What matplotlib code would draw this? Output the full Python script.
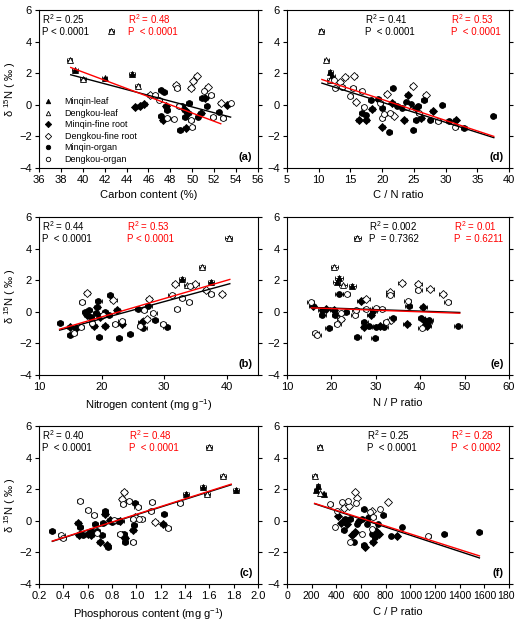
"""δ15N frente a C, N, P y sus cocientes (seis paneles con ajustes lineales)."""
import matplotlib.pyplot as plt
from matplotlib.lines import Line2D
from matplotlib.ticker import FormatStrFormatter

plt.rcParams["font.family"] = ["Liberation Sans", "DejaVu Sans"]
plt.rcParams["mathtext.fontset"] = "custom"
plt.rcParams["mathtext.rm"] = "Liberation Sans"
plt.rcParams["mathtext.it"] = "Liberation Sans:italic"
plt.rcParams["mathtext.bf"] = "Liberation Sans:bold"

# --- datos ---------------------------------------------------------------
# grupos: ML Minqin-leaf, DL Dengkou-leaf, MR Minqin-fine root,
#         DR Dengkou-fine root, MO Minqin-organ, DO Dengkou-organ
C_X = [38.8, 42.6, 39.3, 40.0, 42.0, 44.5, 45.0, 44.8, 45.2, 45.6,
       46.1, 46.6, 47.1, 47.4, 47.0, 47.6, 47.7, 47.1, 47.3, 47.7,
       48.3, 48.5, 48.6, 48.8, 49.1, 49.3, 48.9, 49.4, 49.3, 49.6,
       49.7, 49.9, 50.0, 49.9, 50.1, 50.4, 50.5, 50.8, 50.9, 51.1,
       51.2, 51.4, 51.7, 51.3, 51.9, 52.4, 52.6, 52.8, 53.2, 53.5]
C_Y = [2.84, 4.7, 2.17, 1.64, 1.68, 1.96, 1.22, -0.15, -0.1, 0.05,
       0.65, 0.63, 0.95, 0.8, 0.3, -0.1, -0.3, -0.7, -0.95, -0.85,
       -0.9, 1.27, 1.05, -0.1, -0.1, -0.3, -1.6, -1.5, -0.75, -0.5,
       0.1, -0.95, -1.4, 1.05, 1.5, 1.8, -0.8, -0.55, 0.4, 0.9,
       0.4, 1.1, 0.6, -0.1, -0.75, -0.45, 0.1, -0.85, 0.0, 0.1]
C_G = ("DL DL ML DL ML ML DL MR MR MR DR DO MO MO DO MR MO MO MR DO "
       "DO DR DO DO MO MR MO MR MO MR MO DO DO DR DR DR MO MR MO DO "
       "MR DR DO MO DO MO DR DO MR DO").split()

CN_X = [10.4, 11.2, 11.8, 12.1, 11.7, 12.4, 12.6, 13.4, 13.7, 14.2,
        15.6, 15.4, 15.0, 15.8, 16.8, 17.1, 16.3, 16.8, 17.4, 17.5,
        18.2, 18.4, 19.4, 19.7, 20.0, 20.0, 20.0, 20.3, 20.7, 21.1,
        21.3, 21.7, 21.8, 21.6, 22.4, 23.2, 23.5, 23.8, 23.9, 24.0,
        24.5, 24.8, 24.9, 25.3, 25.3, 25.7, 25.8, 26.2, 26.6, 26.9,
        27.6, 28.0, 28.8, 29.5, 30.5, 31.6, 31.5, 32.9, 37.5]
CN_Y = [4.67, 2.82, 2.1, 1.8, 1.6, 1.55, 1.05, 1.45, 1.15, 1.73,
        1.8, 1.05, 0.57, 0.15, 0.85, -0.15, -0.95, -0.53, -0.63, -0.98,
        0.3, -0.27, 0.35, 0.1, -0.2, -0.85, -1.4, -0.6, 0.7, -1.7,
        -0.55, 1.05, -0.7, 0.1, -0.1, -0.2, -0.95, 0.2, -0.15, 0.65,
        0.05, 1.2, -1.6, -0.2, -0.95, -0.05, -0.55, -0.85, 0.3, 0.6,
        -0.95, -0.4, -1.05, 0.0, -1.0, -0.95, -1.4, -1.45, -0.7]
CN_G = ("DL DL ML ML DL DO DO DR DO DR DR DO DO DR DO DO MR MO MO MR "
        "MO MR MO DO MO DO MR DO DR MO DO MO DR MR MO MO MR MO DO MR "
        "MO DR MO MR MO MO DO MR MO DR MO MR DO MO MO MR DO MO MO").split()

N_X = [40.3, 36.0, 32.9, 31.8, 33.7, 34.1, 35.0, 37.5, 36.7, 37.5,
       39.3, 31.2, 32.9, 34.0, 32.0, 13.3, 14.9, 15.0, 15.6, 15.9,
       16.7, 16.9, 17.7, 17.4, 17.7, 18.0, 18.3, 18.5, 18.8, 19.1,
       19.3, 19.5, 19.6, 19.8, 20.2, 20.5, 20.6, 21.2, 21.4, 21.9,
       22.1, 22.5, 22.8, 23.2, 23.2, 24.6, 25.9, 26.2, 26.4, 26.7,
       26.8, 27.2, 27.5, 27.6, 28.3, 28.5, 29.8, 30.4]
N_Y = [4.67, 2.84, 2.1, 1.79, 1.68, 1.62, 1.73, 1.9, 1.37, 1.12,
       1.1, 1.05, 0.9, 0.6, 0.15, -0.7, -0.95, -1.47, -1.37, -1.05,
       -0.95, 0.63, 1.2, 0.0, -0.2, 0.1, -0.3, -0.7, -0.9, -0.1,
       0.3, 0.7, -1.6, -0.3, -0.2, 0.0, -0.9, -0.2, 1.05, 0.74,
       -0.74, 0.1, -1.67, -0.78, -0.57, -1.43, 0.21, -0.9, -0.67, -1.0,
       0.1, -0.44, 0.36, 0.84, -0.1, -0.53, -0.74, -0.95]
N_G = ("DL DL ML DR DL DO DR ML DR DO DR DO DO DO DO MO MR MO DO MR "
       "DO DO DR MO MR MO MO DO MR MO MR MO MO MR DO MO MR MO MO DR "
       "DO MR MO MR DO MO MO DO MR MO DO DR MO DR DO MO DO MO").split()

NP_X = [25.8, 20.6, 21.7, 21.2, 22.6, 24.7, 23.4, 21.7, 15.3, 15.8,
        17.8, 18.8, 17.9, 20.5, 20.9, 22.1, 23.2, 25.3, 25.5, 21.3,
        22.1, 19.4, 16.4, 16.8, 25.8, 29.8, 26.6, 27.9, 27.9, 27.4,
        27.4, 28.5, 28.9, 29.4, 30.0, 30.0, 30.9, 31.3, 31.9, 32.4,
        33.4, 33.8, 33.2, 33.2, 35.8, 37.2, 37.4, 37.0, 39.6, 39.6,
        40.3, 40.2, 40.7, 40.9, 41.4, 41.8, 42.0, 41.6, 42.2, 45.1,
        46.2, 48.5]
NP_Y = [4.67, 2.84, 2.15, 1.9, 1.68, 1.66, 1.1, 1.1, 0.63, 0.36,
        0.1, 0.21, -0.2, 0.1, -0.2, -0.1, -0.04, -0.17, 0.1, -0.74,
        -0.46, -1.0, -1.37, -1.47, -1.58, -1.67, 0.7, 0.15, 0.84, -0.63,
        -0.95, -0.9, -0.2, 0.04, 0.25, -0.95, -0.9, 0.15, -0.95, -0.63,
        -0.49, -0.42, 1.05, 1.26, 1.82, 0.7, 0.4, -0.74, 1.79, 1.37,
        -1.0, -0.36, 0.3, -0.53, -0.78, -0.63, -0.49, -0.9, 1.43, 1.1,
        0.63, -0.9]
NP_G = ("DL DL ML ML DL ML DO MO DO MR MO MR MO MR MO DO MO DO DO DO "
        "DR MO DO DO MO MO MR DO DR MO MR MO MR MO DO MO MR DO MO DO "
        "DR MO DO DR DR DO MO MR DR DO DO MO MR MO MR MO MO MR DR DR "
        "DO MO").split()

P_X = [1.60, 1.71, 1.55, 1.58, 1.41, 1.82, 1.36, 1.13, 1.12, 1.23,
       1.22, 1.26, 1.15, 1.05, 1.02, 0.99, 1.01, 0.99, 0.97, 0.97,
       0.98, 0.97, 0.94, 0.90, 0.88, 0.89, 0.91, 0.91, 0.87, 0.90,
       0.88, 0.85, 0.87, 0.80, 0.78, 0.82, 0.745, 0.745, 0.725, 0.77,
       0.76, 0.72, 0.705, 0.68, 0.66, 0.655, 0.60, 0.54, 0.535, 0.52,
       0.54, 0.53, 0.56, 0.60, 0.625, 0.63, 0.68, 0.385, 0.31, 0.40]
P_Y = [4.7, 2.86, 2.15, 1.7, 1.7, 1.95, 1.12, 1.18, 0.65, 0.44,
       -0.18, -0.44, -0.08, 0.13, 0.13, 0.23, 0.9, 1.14, 0.13, -0.6,
       -0.29, -1.34, 1.28, 1.85, 1.39, 1.05, -1.08, -1.34, -0.81, -0.81,
       -0.92, 0.0, 0.0, -0.08, 0.02, 0.02, 0.65, 0.45, -0.15, -1.65,
       -1.55, -0.92, -1.34, -0.77, -0.18, 0.34, 0.69, -0.81, 1.28, -0.12,
       -0.39, -0.92, -0.92, -0.81, -0.65, -0.92, -0.65, -0.92, -0.65, -1.06]
P_G = ("DL DL ML DL ML ML DO DO DO MO MR DO DR DO DO DR DO MO DO MR "
       "MO DO DO DR DR DO MR MO DO MO MR MO MR MO MR DO MO MR MO MO "
       "MR MO MR DO MO DO DO MO DO MR MO MR MO MR MO MR MO DO MO DO").split()

CP_X = [264, 224, 251, 235, 270, 297, 351, 405, 391, 413,
        445, 459, 494, 499, 553, 567, 561, 467, 440, 459,
        486, 513, 526, 513, 540, 553, 567, 580, 607, 621,
        607, 621, 634, 648, 661, 674, 688, 701, 688, 688,
        694, 710, 720, 737, 747, 755, 782, 818, 845, 890,
        931, 1147, 1276, 1560]
CP_Y = [4.69, 2.84, 2.21, 1.94, 1.75, 1.68, 1.09, 0.63, -0.42, 0.32,
        1.16, 0.84, 1.26, 0.95, 1.83, 1.47, 1.12, 0.11, -0.11, -0.57,
        -0.21, 0.11, -0.9, -1.33, -1.37, -0.74, -0.21, 0.0, 0.11, 0.74,
        -0.84, -1.54, -1.68, -0.21, 0.21, 0.53, 0.63, 0.21, -0.53, -0.84,
        -1.37, -1.0, -0.63, -0.21, -0.84, 0.74, 0.36, 1.22, -0.95, -0.95,
        -0.42, -0.95, -0.84, -0.69]
CP_G = ("DL DL ML ML DL ML DO DO DO MR DO DR DO DR DR DR DO MO MR MO "
        "MR MO MR DO MO MR MO MR MO MO DO MO MR MO MR DO DR DO DO MO "
        "MR MO MR MO MR DO MO DR MO MR MO DO MO MO").split()

# rectas de ajuste (extremos): negra y roja
FIT_BLACK = {
    "a": ([38.9, 53.5], [1.9, -0.78]),
    "d": ([10.5, 37.6], [1.37, -2.08]),
    "b": ([13.3, 40.5], [-1.16, 1.78]),
    "e": ([15.5, 48.9], [0.28, -0.04]),
    "c": ([0.31, 1.78], [-1.3, 2.28]),
    "f": ([224, 1560], [1.08, -2.35]),
}
FIT_RED = {
    "a": ([38.9, 52.6], [2.36, -1.2]),
    "d": ([10.5, 37.6], [1.6, -2.0]),
    "b": ([13.3, 40.5], [-1.1, 2.05]),
    "e": ([15.5, 48.9], [0.25, -0.09]),
    "c": ([0.31, 1.78], [-1.28, 2.32]),
    "f": ([224, 1560], [1.1, -2.22]),
}
STATS_BLACK = {
    "a": "R$^2$ = 0.25\nP < 0.0001",
    "d": "R$^2$ = 0.41\nP  < 0.0001",
    "b": "R$^2$ = 0.44\nP  < 0.0001",
    "e": "R$^2$ = 0.002\nP  = 0.7362",
    "c": "R$^2$ = 0.40\nP  < 0.0001",
    "f": "R$^2$ = 0.25\nP  < 0.0001",
}
STATS_RED = {
    "a": "R$^2$ = 0.48\nP  < 0.0001",
    "d": "R$^2$ = 0.53\nP  < 0.0001",
    "b": "R$^2$ = 0.53\nP < 0.0001",
    "e": "R$^2$ = 0.01\nP  = 0.6211",
    "c": "R$^2$ = 0.48\nP  < 0.0001",
    "f": "R$^2$ = 0.28\nP  < 0.0002",
}

GROUPS = ["ML", "DL", "MR", "DR", "MO", "DO"]
GROUP_LABELS = ["Minqin-leaf", "Dengkou-leaf", "Minqin-fine root",
                "Dengkou-fine root", "Minqin-organ", "Dengkou-organ"]
MARKERS = {"ML": "^", "DL": "^", "MR": "D", "DR": "D", "MO": "o", "DO": "o"}
SIZES = {"^": 4.6, "D": 3.6, "o": 4.2}


def face(g):
    return "black" if g.startswith("M") else "white"


def draw_panel(ax, key, xs, ys, gs, xerr, xlim, xticks, xlabel, sx_black, sx_red):
    for g in GROUPS:
        px = [x for x, gg in zip(xs, gs) if gg == g]
        py = [y for y, gg in zip(ys, gs) if gg == g]
        if not px:
            continue
        m = MARKERS[g]
        ax.errorbar(px, py, xerr=xerr, yerr=0.1, fmt=m, ms=SIZES[m],
                    mfc=face(g), mec="black", mew=0.6, ecolor="black",
                    elinewidth=0.6, capsize=1.3, capthick=0.6, zorder=3)
    bx, by = FIT_BLACK[key]
    rx, ry = FIT_RED[key]
    ax.plot(bx, by, color="black", lw=1.0, zorder=4)
    ax.plot(rx, ry, color="red", lw=1.0, zorder=4)
    ax.text(sx_black, 0.985, STATS_BLACK[key], transform=ax.transAxes,
            ha="left", va="top", fontsize=7, linespacing=1.15)
    ax.text(sx_red, 0.985, STATS_RED[key], transform=ax.transAxes,
            ha="left", va="top", fontsize=7, color="red", linespacing=1.15)
    ax.text(0.975, 0.035, f"({key})", transform=ax.transAxes, ha="right",
            va="bottom", fontsize=8, fontweight="bold")
    ax.set_xlim(*xlim)
    ax.set_xticks(xticks)
    ax.set_ylim(-4, 6)
    ax.set_yticks([-4, -2, 0, 2, 4, 6])
    ax.set_xlabel(xlabel, fontsize=8, labelpad=4)
    ax.tick_params(direction="out", length=3, width=0.8, labelsize=8,
                   right=True, pad=2)
    for s in ax.spines.values():
        s.set_linewidth(0.8)


fig = plt.figure(figsize=(5.15, 6.24), dpi=100)
LEFT_L, LEFT_R = 0.0757, 0.5573
W_L, W_R, H = 0.4252, 0.4311, 0.2532
BOTTOMS = [0.7308, 0.399, 0.0641]

ax_a = fig.add_axes([LEFT_L, BOTTOMS[0], W_L, H])
ax_d = fig.add_axes([LEFT_R, BOTTOMS[0], W_R, H])
ax_b = fig.add_axes([LEFT_L, BOTTOMS[1], W_L, H])
ax_e = fig.add_axes([LEFT_R, BOTTOMS[1], W_R, H])
ax_c = fig.add_axes([LEFT_L, BOTTOMS[2], W_L, H])
ax_f = fig.add_axes([LEFT_R, BOTTOMS[2], W_R, H])

draw_panel(ax_a, "a", C_X, C_Y, C_G, 0.25, (36, 56), range(36, 57, 2),
           "Carbon content (%)", 0.012, 0.405)
draw_panel(ax_d, "d", CN_X, CN_Y, CN_G, 0.4, (5, 40), range(5, 41, 5),
           "C / N ratio", 0.35, 0.74)
draw_panel(ax_b, "b", N_X, N_Y, N_G, 0.5, (10, 45), [10, 20, 30, 40],
           "Nitrogen content (mg g$^{-1}$)", 0.012, 0.40)
draw_panel(ax_e, "e", NP_X, NP_Y, NP_G, 0.8, (10, 60), range(10, 61, 10),
           "N / P ratio", 0.37, 0.75)
draw_panel(ax_c, "c", P_X, P_Y, P_G, 0.025, (0.2, 2.0),
           [0.2, 0.4, 0.6, 0.8, 1.0, 1.2, 1.4, 1.6, 1.8, 2.0],
           "Phosphorous content (mg g$^{-1}$)", 0.012, 0.41)
draw_panel(ax_f, "f", CP_X, CP_Y, CP_G, 18, (0, 1800), range(0, 1801, 200),
           "C / P ratio", 0.36, 0.74)
ax_c.xaxis.set_major_formatter(FormatStrFormatter("%.1f"))
ax_f.tick_params(axis="x", labelsize=7.6)

for ax in (ax_a, ax_b, ax_c):
    ax.set_ylabel("δ $^{15}$N ( ‰ )", fontsize=8, labelpad=1)

handles = [Line2D([], [], ls="none", marker=MARKERS[g], ms=3.2,
                  mfc=face(g), mec="black", mew=0.6) for g in GROUPS]
ax_a.legend(handles, GROUP_LABELS, loc="lower left", frameon=False,
            fontsize=6.5, handlelength=1.0, handletextpad=1.4,
            labelspacing=0.28, borderaxespad=0.25, borderpad=0.2)

fig.savefig("out.png", dpi=100)
